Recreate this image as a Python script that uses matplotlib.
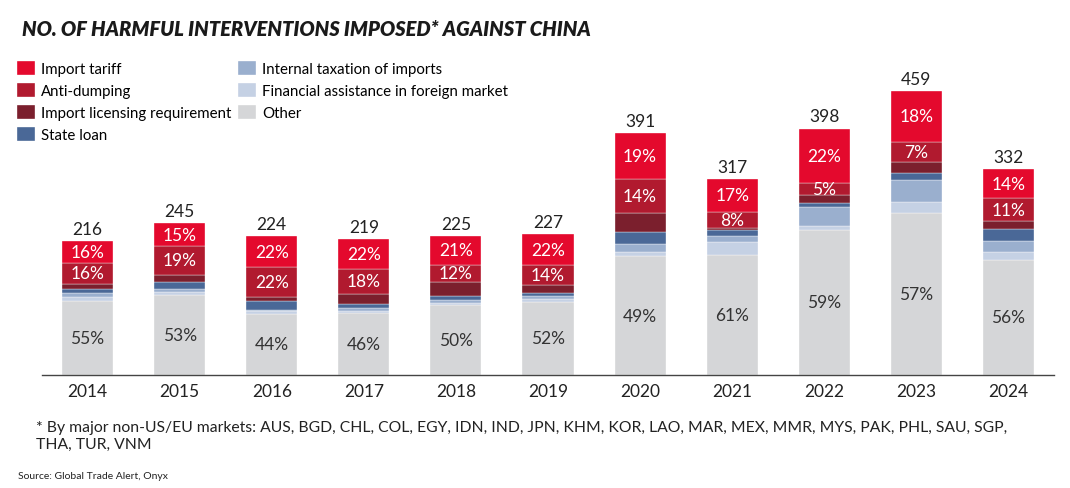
import matplotlib.pyplot as plt
import numpy as np

# chart data (shares in % of the yearly total, stacked bottom to top)
years = ['2014', '2015', '2016', '2017', '2018', '2019', '2020', '2021', '2022', '2023', '2024']
totals = [216, 245, 224, 219, 225, 227, 391, 317, 398, 459, 332]

other_pct = [55, 53, 44, 46, 50, 52, 49, 61, 59, 57, 56]
financial_pct = [3.5, 2, 2, 1.5, 2, 2, 2, 7, 1.5, 4, 4]
internal_pct = [3, 2, 1, 2, 2, 2, 3, 3, 7.5, 7.5, 5]
loan_pct = [3, 4, 6, 2.5, 3, 2, 5, 3, 2, 2.5, 6]
licensing_pct = [3.5, 5, 3, 8, 10, 6, 8, 1, 3, 4, 4]
antidumping_pct = [16, 19, 22, 18, 12, 14, 14, 8, 5, 7, 11]
tariff_pct = [16, 15, 22, 22, 21, 22, 19, 17, 22, 18, 14]

# (name, shares, colour, label the segment?)
series = [
    ('Other', other_pct, '#D5D6D8', True),
    ('Financial assistance in foreign market', financial_pct, '#C5D1E4', False),
    ('Internal taxation of imports', internal_pct, '#9AAFCE', False),
    ('State loan', loan_pct, '#4A6897', False),
    ('Import licensing requirement', licensing_pct, '#7B1F2D', False),
    ('Anti-dumping', antidumping_pct, '#B11A2F', True),
    ('Import tariff', tariff_pct, '#E4092D', True),
]

legend_order = ['Import tariff', 'Anti-dumping', 'Import licensing requirement', 'State loan',
                'Internal taxation of imports', 'Financial assistance in foreign market', 'Other']

FONT = 'Lato'
NUM_SIZE = 12.5

fig = plt.figure(figsize=(10.7, 4.89), dpi=100)
ax = fig.add_axes([0.0388, 0.2311, 0.9467, 0.633])

x = np.arange(len(years))
totals_arr = np.array(totals, dtype=float)
bottom = np.zeros(len(years))
handles = {}
for name, pct, color, labelled in series:
    heights = totals_arr * np.array(pct) / 100
    bars = ax.bar(x, heights, bottom=bottom, width=0.554, color=color,
                  edgecolor='white', linewidth=0.25, label=name)
    handles[name] = bars
    if labelled:
        txt_color = '#333333' if name == 'Other' else 'white'
        for i in range(len(years)):
            ax.text(x[i], bottom[i] + heights[i] / 2, '{:d}%'.format(int(round(pct[i]))),
                    ha='center', va='center', color=txt_color,
                    fontsize=NUM_SIZE, family=FONT)
    bottom += heights

# totals above each bar
for i in range(len(years)):
    ax.annotate(str(totals[i]), (x[i], totals[i]), textcoords='offset points',
                xytext=(0, 3), ha='center', va='bottom', fontsize=NUM_SIZE,
                family=FONT, color='#222222')

ax.set_xlim(-0.5, 10.5)
ax.set_ylim(0, 500)
ax.set_xticks(x)
ax.set_xticklabels(years, fontsize=NUM_SIZE, family=FONT, color='#222222')
ax.tick_params(axis='x', length=0, pad=6)
ax.set_yticks([])
for side in ['top', 'right', 'left']:
    ax.spines[side].set_visible(False)
ax.spines['bottom'].set_color('#444444')
ax.spines['bottom'].set_linewidth(1.0)

# title
fig.text(0.0206, 0.94, 'NO. OF HARMFUL INTERVENTIONS IMPOSED* AGAINST CHINA',
         fontsize=14.5, family=FONT, weight='heavy', style='italic',
         color='#1a1a1a', ha='left', va='center')

# legend, two columns
fig.legend([handles[n] for n in legend_order], legend_order, ncol=2,
           loc='upper left', bbox_to_anchor=(0.0159, 0.874), frameon=False,
           prop={'family': FONT, 'size': 10.8}, handlelength=1.2,
           handleheight=1.1, handletextpad=0.4, labelspacing=0.45,
           columnspacing=0.45, borderpad=0, borderaxespad=0)

# footnote and source
fig.text(0.0336, 0.107, '* By major non-US/EU markets: AUS, BGD, CHL, COL, EGY, IDN, IND, JPN, KHM, KOR, LAO, MAR, MEX, MMR, MYS, PAK, PHL, SAU, SGP,\nTHA, TUR, VNM',
         fontsize=11.3, family=FONT, color='#222222', ha='left', va='center',
         linespacing=1.3)
fig.text(0.0168, 0.026, 'Source: Global Trade Alert, Onyx', fontsize=7.5,
         family=FONT, color='#222222', ha='left', va='center')

fig.savefig('out.png', dpi=100)
